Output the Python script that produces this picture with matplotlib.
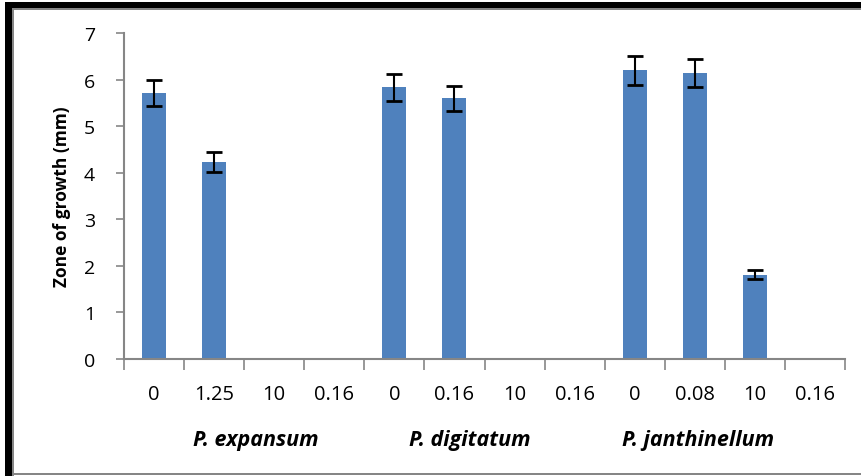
"""Zone of growth bar chart for three Penicillium species."""
import matplotlib

matplotlib.use("Agg")
import matplotlib.pyplot as plt
from matplotlib.patches import Rectangle

concentrations = ["0", "1.25", "10", "0.16", "0", "0.16", "10", "0.16", "0", "0.08", "10", "0.16"]
zone_mm = [5.71, 4.23, 0, 0, 5.84, 5.60, 0, 0, 6.20, 6.14, 1.81, 0]
zone_err = [0.28, 0.22, 0, 0, 0.29, 0.27, 0, 0, 0.31, 0.30, 0.10, 0]
species = ["P. expansum", "P. digitatum", "P. janthinellum"]
species_x = [1.70, 5.26, 9.05]

BAR_COLOR = "#4f81bd"
AXIS_GRAY = "#868686"
FONT = ["Open Sans", "DejaVu Sans"]

W, H = 861, 477
fig = plt.figure(figsize=(W / 100, H / 100), dpi=100)

# outer frame: thick black top/left with thin gray inner line, gray bottom line
fig.add_artist(Rectangle((5 / W, 1 - 9 / H), 1, 6 / H, transform=fig.transFigure, color="black", lw=0))
fig.add_artist(Rectangle((12 / W, 1 - 11 / H), 1, 2 / H, transform=fig.transFigure, color=AXIS_GRAY, lw=0))
fig.add_artist(Rectangle((5 / W, 0), 7 / W, 1 - 3 / H, transform=fig.transFigure, color="black", lw=0))
fig.add_artist(Rectangle((12 / W, 0), 2 / W, 1 - 9 / H, transform=fig.transFigure, color=AXIS_GRAY, lw=0))
fig.add_artist(Rectangle((12 / W, 1 / H), 1, 2 / H, transform=fig.transFigure, color=AXIS_GRAY, lw=0))

ax = fig.add_axes([124 / W, 1 - 360 / H, (845 - 124) / W, (360 - 34) / H])
x = list(range(len(concentrations)))
ax.bar(x, zone_mm, width=0.4, color=BAR_COLOR, zorder=2)
err_x = [i for i, e in zip(x, zone_err) if e > 0]
err_y = [v for v, e in zip(zone_mm, zone_err) if e > 0]
err_e = [e for e in zone_err if e > 0]
ax.errorbar(err_x, err_y, yerr=err_e, fmt="none", ecolor="black", elinewidth=1.5, capsize=5.5, capthick=2, zorder=3)

ax.set_xlim(-0.5, len(concentrations) - 0.5)
ax.set_ylim(0, 7)
ax.set_yticks(range(8))
ax.set_yticklabels([str(v) for v in range(8)], family=FONT, fontsize=14)
ax.set_xticks([i - 0.5 for i in range(len(concentrations) + 1)])
ax.set_xticklabels([])
ax.tick_params(axis="x", length=8, color=AXIS_GRAY, width=1.2)
ax.tick_params(axis="y", length=6, color=AXIS_GRAY, width=1.2, pad=15)
for side in ("top", "right"):
    ax.spines[side].set_visible(False)
for side in ("left", "bottom"):
    ax.spines[side].set_color(AXIS_GRAY)
    ax.spines[side].set_linewidth(1.5)

for i, lab in enumerate(concentrations):
    ax.text(i, -0.75, lab, ha="center", va="center", fontsize=14.5, family=FONT)
for sx, name in zip(species_x, species):
    ax.text(sx, -1.72, name, ha="center", va="center", fontsize=15.5, family=FONT,
            fontweight="bold", style="italic")

ax.set_ylabel("Zone of growth (mm)", family=FONT, fontsize=12.5, fontweight="bold", labelpad=9)

fig.savefig("out.png", dpi=100)
